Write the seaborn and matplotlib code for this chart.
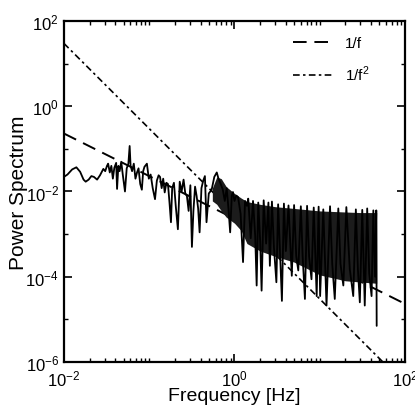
import numpy as np
import pandas as pd
import matplotlib
matplotlib.use('Agg')
import matplotlib.pyplot as plt
import seaborn as sns
from matplotlib.ticker import LogLocator, NullFormatter

# spectrum trace (Hz, power)
freq = [0.0100, 0.0110, 0.0125, 0.0140, 0.0155, 0.0170, 0.0180, 0.0195, 0.0210, 0.0225,
        0.0245, 0.0265, 0.0290, 0.0305, 0.0320, 0.0330, 0.0345, 0.0360, 0.0375, 0.0390,
        0.0410, 0.0420, 0.0435, 0.0450, 0.0470, 0.0490, 0.0520, 0.0545, 0.0570, 0.0590,
        0.0605, 0.0630, 0.0660, 0.0690, 0.0720, 0.0750, 0.0785, 0.0820, 0.0850, 0.0880,
        0.0940, 0.0990, 0.1040, 0.1100, 0.1170, 0.1230, 0.1290, 0.1340, 0.1400, 0.1460,
        0.1520, 0.1590, 0.1660, 0.1730, 0.1800, 0.1860, 0.1950, 0.2050, 0.2170, 0.2280,
        0.2400, 0.2530, 0.2650, 0.2770, 0.2900, 0.3040, 0.3170, 0.3300, 0.3450, 0.3600,
        0.3750, 0.3900, 0.4100, 0.4300, 0.4500, 0.4700, 0.5000, 0.5400, 0.5800, 0.6200,
        0.6500, 0.6900, 0.7300, 0.7700, 0.8100, 0.8500, 0.8900, 0.9300, 0.9600, 1.0000,
        1.0500, 1.1000, 1.1800, 1.2600, 1.3300, 1.4000,
        1.45, 1.55, 1.65, 1.75, 1.82, 1.9, 2.0, 2.08, 2.2, 2.35,
        2.5, 2.6, 2.75, 2.9, 3.1, 3.25, 3.4, 3.6, 3.8, 4.0,
        4.3, 4.7, 5.0, 5.3, 5.6, 6.0, 6.3, 6.7, 7.1, 7.5,
        8.0, 8.5, 9.2, 9.7, 10.1, 11.0, 12.0, 13.2, 14.0, 15.0,
        16.5, 17.5, 18.9, 20.5, 22.5, 24.7, 26.5, 28.0, 29.5, 31.5,
        33.7, 36.0, 38.0, 40.5, 42.5, 44.5, 46.0, 46.5]
power = [0.022, 0.025, 0.033, 0.037, 0.029, 0.019, 0.017, 0.019, 0.023, 0.022,
         0.019, 0.024, 0.034, 0.030, 0.040, 0.045, 0.028, 0.040, 0.020, 0.036,
         0.047, 0.0115, 0.040, 0.030, 0.050, 0.025, 0.010, 0.035, 0.045, 0.117,
         0.040, 0.030, 0.045, 0.020, 0.028, 0.035, 0.015, 0.011, 0.030, 0.038,
         0.045, 0.020, 0.025, 0.012, 0.0066, 0.018, 0.024, 0.022, 0.012, 0.020,
         0.0095, 0.016, 0.015, 0.0055, 0.0019, 0.012, 0.016, 0.0045, 0.0013, 0.017,
         0.010, 0.019, 0.009, 0.0078, 0.0035, 0.014, 0.0005, 0.0035, 0.013, 0.0078,
         0.004, 0.0011, 0.012, 0.018, 0.023, 0.0019, 0.009, 0.011, 0.022, 0.028,
         0.020, 0.015, 0.011, 0.006, 0.012, 0.004, 0.0011, 0.008, 0.0097, 0.006,
         0.008, 0.0074, 0.003, 0.00022, 0.006, 0.0046,
         0.0068, 0.0008, 0.006, 0.0009, 6.2e-5, 0.0055, 0.0007, 4.7e-5, 0.0062, 0.0006,
         0.0055, 1.8e-4, 0.0058, 0.0005, 7.4e-5, 0.005, 0.0005, 2.7e-5, 0.0052, 0.0004,
         0.0047, 1.05e-4, 0.0048, 0.0003, 1.4e-4, 0.0045, 0.0003, 3e-5, 0.0046, 0.0003,
         8.7e-5, 0.0042, 3.5e-5, 0.0044, 3.5e-5, 0.0038, 2.1e-5, 0.0045, 0.0002, 3e-5,
         0.004, 0.0002, 6.2e-5, 0.0043, 0.00015, 3.5e-5, 0.0038, 0.00015, 2.5e-5, 0.0037,
         2.1e-5, 0.004, 0.00012, 3.5e-5, 0.0036, 0.0001, 0.0036, 7e-6]

# dense (unresolved) band of the trace
band_freq = [0.55, 0.62, 0.7, 0.8, 1.0, 1.2, 1.4, 2.0, 3.0, 5.0, 10.0, 20.0, 30.0, 46.5]
band_upper = [0.012, 0.022, 0.02, 0.013, 0.009, 0.007, 0.0058, 0.005, 0.0044, 0.004, 0.0035, 0.0033, 0.0032, 0.0032]
band_lower = [0.006, 0.005, 0.0035, 0.0025, 0.0018, 0.0012, 0.0006, 0.0004, 0.0003, 0.00022, 0.00011, 8e-5, 7.5e-5, 7e-5]

# reference power laws (end points of the straight lines)
ref_freq = [0.01, 100.0]
ref_1f = [0.23, 2.3e-5]
ref_1f2 = [30.0, 3e-7]

sns.set_style('ticks')
plt.rcParams['font.family'] = ['Liberation Sans', 'DejaVu Sans']
plt.rcParams['mathtext.fontset'] = 'custom'
plt.rcParams['mathtext.rm'] = 'Liberation Sans'
for k in ['text.color', 'axes.labelcolor', 'xtick.color', 'ytick.color', 'axes.edgecolor']:
    plt.rcParams[k] = 'black'

fig = plt.figure(figsize=(4.15, 4.10), dpi=100)
ax = fig.add_axes([0.154, 0.115, 0.822, 0.831])

sns.lineplot(x=ref_freq, y=ref_1f, ax=ax, color='black', lw=1.4,
             linestyle=(0, (7, 4)), label='1/f', zorder=2)
sns.lineplot(x=ref_freq, y=ref_1f2, ax=ax, color='black', lw=1.2,
             linestyle=(0, (4, 2, 1.5, 2)), label='1/f$^2$', zorder=2)

ax.fill_between(band_freq, band_lower, band_upper, color='#1c1c1c', lw=0, zorder=3)
spec = pd.DataFrame({'freq': freq, 'power': power})
sns.lineplot(data=spec, x='freq', y='power', ax=ax, estimator=None, sort=False,
             color='black', lw=1.3, zorder=4)

ax.set(xscale='log', yscale='log', xlim=(1e-2, 1e2), ylim=(1e-6, 1e2))
ax.set_xticks([1e-2, 1e0, 1e2])
ax.set_yticks([1e2, 1e0, 1e-2, 1e-4, 1e-6])
ax.xaxis.set_minor_locator(LogLocator(base=10, subs=np.arange(1, 10), numticks=50))
ax.yaxis.set_minor_locator(LogLocator(base=10, subs=(1.0,), numticks=50))
ax.xaxis.set_minor_formatter(NullFormatter())
ax.yaxis.set_minor_formatter(NullFormatter())
ax.tick_params(which='both', direction='in', top=True, right=True, labelsize=12)
ax.tick_params(axis='x', which='major', pad=5)
ax.tick_params(which='major', length=6, width=1.2)
ax.tick_params(which='minor', length=3, width=1.0)
for sp in ax.spines.values():
    sp.set_linewidth(1.6)

ax.set_xlabel('Frequency [Hz]', fontsize=14, labelpad=-1)
ax.set_ylabel('Power Spectrum', fontsize=15, labelpad=-2)
ax.legend(loc='upper right', bbox_to_anchor=(0.94, 1.0), frameon=False,
          handlelength=2.6, fontsize=11, borderaxespad=0.6, labelspacing=0.9)

fig.savefig('out.png', dpi=100)
